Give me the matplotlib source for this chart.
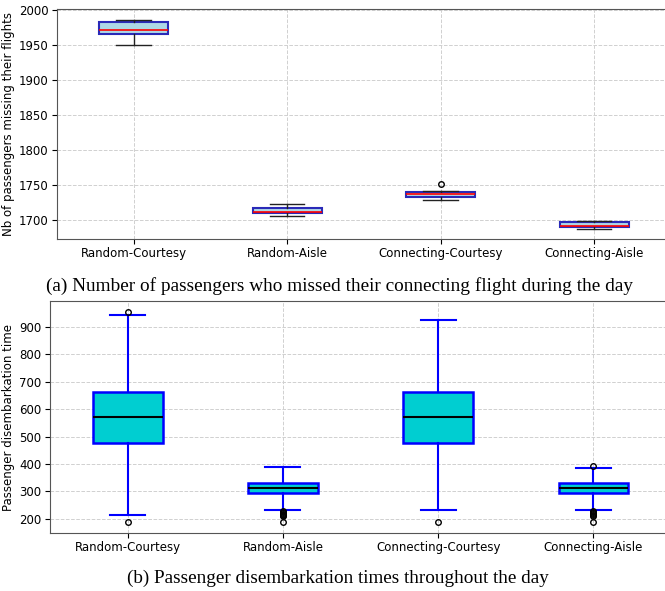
import matplotlib.pyplot as plt
from matplotlib.ticker import MultipleLocator

# === Data ===
strategies = ["Random-Courtesy", "Random-Aisle", "Connecting-Courtesy", "Connecting-Aisle"]

# (a) passengers missing their connecting flight
missed_whislo = [1950, 1706, 1728, 1688]
missed_q1     = [1965, 1710, 1733, 1690]
missed_med    = [1971, 1712, 1737, 1691]
missed_q3     = [1982, 1718, 1740, 1697]
missed_whishi = [1986, 1723, 1741, 1699]
missed_fliers = [[], [], [1751], []]

# (b) passenger disembarkation time
disemb_whislo = [215, 233, 232, 232]
disemb_q1     = [476, 293, 476, 293]
disemb_med    = [571, 313, 571, 313]
disemb_q3     = [662, 332, 662, 332]
disemb_whishi = [942, 389, 923, 384]
disemb_fliers = [[955, 187],
                 [228, 225, 222, 219, 216, 213, 210, 187],
                 [187],
                 [394, 228, 225, 221, 218, 214, 210, 187]]


def make_stats(whislo, q1, med, q3, whishi, fliers):
    return [dict(label=lab, whislo=a, q1=b, med=c, q3=d, whishi=e, fliers=f)
            for lab, a, b, c, d, e, f in zip(strategies, whislo, q1, med, q3, whishi, fliers)]


plt.rcParams['font.family'] = 'DejaVu Sans'
fig = plt.figure(figsize=(6.65, 5.91), dpi=100)

# === Plot (a) ===
ax1 = fig.add_axes([0.0857, 0.5956, 0.923, 0.389])
ax1.bxp(make_stats(missed_whislo, missed_q1, missed_med, missed_q3, missed_whishi, missed_fliers),
        widths=0.45, patch_artist=True,
        boxprops=dict(facecolor='lightblue', edgecolor='#2a2ab8', linewidth=1.5),
        medianprops=dict(color='red', linewidth=1.2),
        whiskerprops=dict(color='#222222', linewidth=1.0),
        capprops=dict(color='#222222', linewidth=1.0),
        flierprops=dict(marker='o', markersize=4, markerfacecolor='none', markeredgecolor='black'))
ax1.set_ylabel("Nb of passengers missing their flights", fontsize=8.5, labelpad=3)
ax1.yaxis.set_major_locator(MultipleLocator(50))

# === Plot (b) ===
ax2 = fig.add_axes([0.0752, 0.0981, 0.934, 0.3926])
ax2.bxp(make_stats(disemb_whislo, disemb_q1, disemb_med, disemb_q3, disemb_whishi, disemb_fliers),
        widths=0.45, patch_artist=True,
        boxprops=dict(facecolor='darkturquoise', edgecolor='blue', linewidth=1.8),
        medianprops=dict(color='black', linewidth=1.5),
        whiskerprops=dict(color='blue', linewidth=1.5),
        capprops=dict(color='blue', linewidth=1.5),
        flierprops=dict(marker='o', markersize=4, markerfacecolor='none', markeredgecolor='black'))
ax2.set_ylabel("Passenger disembarkation time", fontsize=8.5, labelpad=3)
ax2.yaxis.set_major_locator(MultipleLocator(100))

for ax in (ax1, ax2):
    ax.tick_params(labelsize=8.5, pad=2.5)
    ax.grid(True, linestyle='--', color='#d0d0d0', linewidth=0.7)
    ax.set_axisbelow(True)
    for s in ax.spines.values():
        s.set_color('#555555')

fig.text(0.51, 0.516, "(a) Number of passengers who missed their connecting flight during the day",
         ha='center', va='center', family='Liberation Serif', fontsize=13.9)
fig.text(0.508, 0.022, "(b) Passenger disembarkation times throughout the day",
         ha='center', va='center', family='Liberation Serif', fontsize=13.8)

fig.savefig("out.png", dpi=100)
